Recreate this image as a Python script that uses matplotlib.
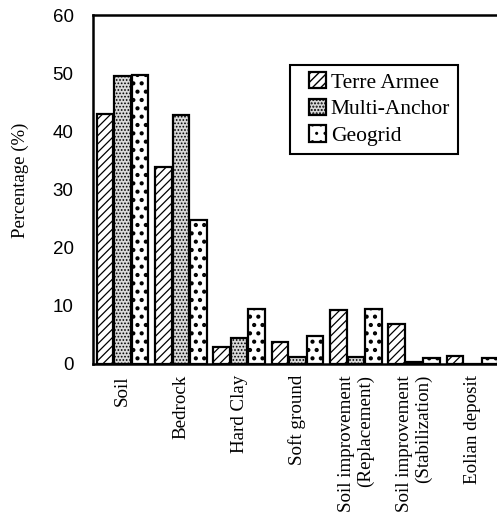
import matplotlib
matplotlib.use("Agg")
import matplotlib.pyplot as plt
from matplotlib.patches import Rectangle
from matplotlib.container import BarContainer
from matplotlib.legend_handler import HandlerPatch, update_from_first_child
import numpy as np

categories = ["Soil", "Bedrock", "Hard Clay", "Soft ground",
              "Soil improvement\n(Replacement)", "Soil improvement\n(Stabilization)",
              "Eolian deposit"]
series_names = ["Terre Armee", "Multi-Anchor", "Geogrid"]
terre_armee = [43.0, 33.8, 2.9, 3.8, 9.2, 6.8, 1.3]
multi_anchor = [49.5, 42.8, 4.5, 1.2, 1.2, 0.3, 0.0]
geogrid = [49.7, 24.7, 9.5, 4.8, 9.5, 1.1, 1.0]
yticks = [0, 10, 20, 30, 40, 50, 60]

fig = plt.figure(figsize=(4.97, 5.17), dpi=100)
ax = fig.add_axes([93/497, 1-364/517, 404/497, 349/517])

x = np.arange(len(categories))
w = 0.285
off = 0.3
styles = [
    dict(facecolor="white", hatch="////", hlw=0.9),
    dict(facecolor="#d9d9d9", hatch=".....", hlw=0.8),
    dict(facecolor="white", hatch="..", hlw=1.8),
]
for i, (vals, st) in enumerate(zip([terre_armee, multi_anchor, geogrid], styles)):
    with plt.rc_context({"hatch.linewidth": st["hlw"]}):
        ax.bar(x + (i-1)*off, vals, width=w, facecolor=st["facecolor"],
               edgecolor="black", hatch=st["hatch"], linewidth=1.6,
               label=series_names[i])

ax.set_xlim(-0.506, 6.42)
ax.set_ylim(0, 60)
ax.set_yticks(yticks)
ax.set_yticklabels([str(t) for t in yticks], fontfamily="Liberation Sans", fontsize=13.5)
ax.set_xticks(x)
ax.set_xticklabels(categories, rotation=90, fontfamily="Liberation Serif", fontsize=13.7,
                   va="top", ha="center", multialignment="right", linespacing=1.1)
ax.tick_params(axis="y", length=0, pad=14)
ax.tick_params(axis="x", length=0, pad=8)
for s in ["left", "bottom", "top"]:
    ax.spines[s].set_linewidth(1.8)
ax.spines["right"].set_visible(False)

fig.text(20.5/497, 1-180/517, "Percentage (%)", rotation=90, ha="center", va="center",
         fontfamily="Liberation Serif", fontsize=13.5)


def square_patch(legend, orig_handle, xdescent, ydescent, width, height, fontsize):
    s = height * 1.05
    return Rectangle((width - s - xdescent, -ydescent + (height - s) / 2), s, s)


leg = ax.legend(loc="upper left", bbox_to_anchor=((290-93)/404, (364-65)/349),
                borderaxespad=0, fancybox=False, framealpha=1, edgecolor="black",
                prop={"family": "Liberation Serif", "size": 15.5},
                handlelength=1.3, handleheight=0.72, handletextpad=0.25,
                labelspacing=0.3, borderpad=0.35,
                handler_map={BarContainer: HandlerPatch(patch_func=square_patch,
                                                        update_func=update_from_first_child)})
leg.get_frame().set_linewidth(1.5)

fig.savefig("out.png", dpi=100)
